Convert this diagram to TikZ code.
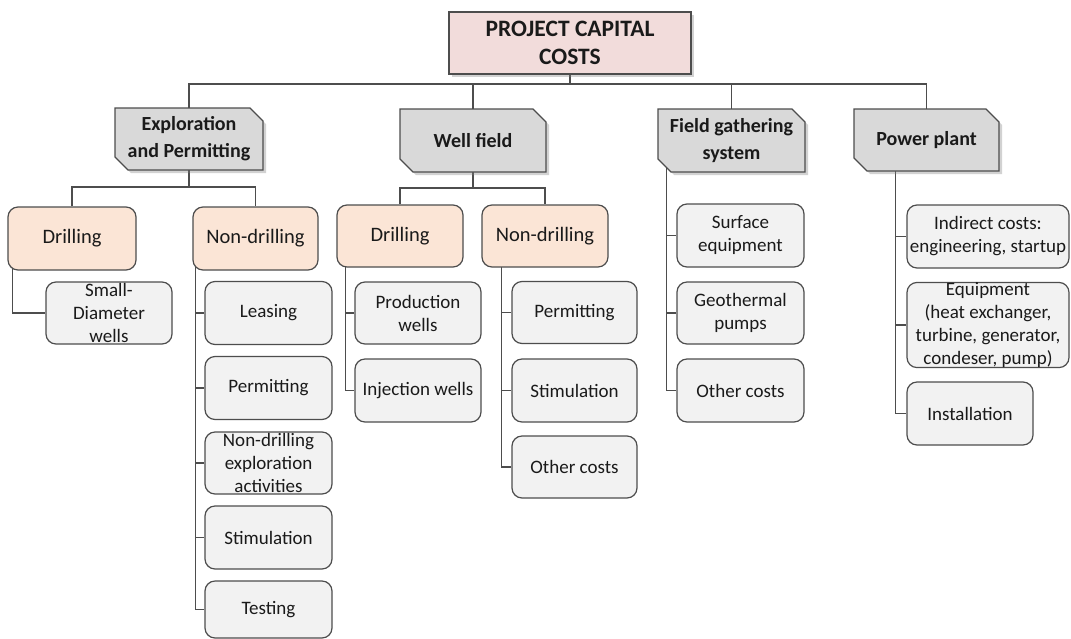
\documentclass[tikz,border=0pt]{standalone}
\usepackage{fontspec}
\setmainfont{Carlito}
\usetikzlibrary{shadows,backgrounds,calc}
\definecolor{topfill}{HTML}{F2DCDB}
\definecolor{lvtwofill}{HTML}{D9D9D9}
\definecolor{peachfill}{HTML}{FBE5D6}
\definecolor{leaffill}{HTML}{F2F2F2}
\definecolor{edgegray}{HTML}{4D4D4D}
\definecolor{ink}{HTML}{1A1A1A}
% name, cx, cy, w, h, text
\newcommand\chamf[6]{%
  \path[lvtwoshape] ({#2-#4/2},{#3-#5/2}) -- ({#2+#4/2-13},{#3-#5/2}) -- ({#2+#4/2},{#3-#5/2+13})
     -- ({#2+#4/2},{#3+#5/2}) -- ({#2-#4/2+13},{#3+#5/2}) -- ({#2-#4/2},{#3+#5/2-13}) -- cycle;
  \node[lvtwotext, minimum width=#4pt, minimum height=#5pt] (#1) at (#2,#3) {#6};}
\begin{document}
\begin{tikzpicture}[x=1pt,y=-1pt,
  conn/.style={draw=edgegray, line width=1.3pt},
  box/.style={draw=edgegray, line width=1.2pt, text=ink, align=center, inner sep=0pt},
  topbox/.style={box, fill=topfill, font=\bfseries\fontsize{23.5}{28}\selectfont,
     drop shadow={shadow xshift=3pt, shadow yshift=-3pt, opacity=0.35}},
  lvtwoshape/.style={draw=edgegray, line width=1.2pt, fill=lvtwofill,
     drop shadow={shadow xshift=3pt, shadow yshift=-3pt, opacity=0.35}},
  lvtwotext/.style={text=ink, align=center, inner sep=0pt, font=\bfseries\fontsize{20}{27}\selectfont},
  midbox/.style={box, rounded corners=10pt, fill=peachfill, font=\fontsize{20.5}{24}\selectfont},
  leaf/.style={box, rounded corners=10pt, fill=leaffill, font=\fontsize{19}{23}\selectfont},
]
\useasboundingbox (0,0) rectangle (1071,638);

% top
\node[topbox, minimum width=242pt, minimum height=62pt] (top) at (570,43) {PROJECT CAPITAL\\COSTS};

% level 2
\chamf{expl}{189}{139}{148}{62}{Exploration\\and Permitting}
\chamf{well}{473}{140.5}{146}{63}{Well field}
\chamf{field}{731.5}{140.5}{147}{63}{Field gathering\\system}
\chamf{power}{926.5}{140}{145}{62}{Power plant}

% exploration subtree
\node[midbox, minimum width=128pt, minimum height=63pt] (ed) at (72,238.5) {Drilling};
\node[midbox, minimum width=125pt, minimum height=63pt] (en) at (255.5,238.5) {Non-drilling};
\node[leaf, minimum width=126pt, minimum height=62pt] (sdw) at (109,313) {Small-\\Diameter\\wells};
\node[leaf, minimum width=127pt, minimum height=63pt] (le) at (268.5,313) {Leasing};
\node[leaf, minimum width=127pt, minimum height=63pt] (pe) at (268.5,388) {Permitting};
\node[leaf, minimum width=127pt, minimum height=62pt] (nd) at (268.5,463) {Non-drilling\\exploration\\activities};
\node[leaf, minimum width=127pt, minimum height=63pt] (st) at (268.5,537.5) {Stimulation};
\node[leaf, minimum width=127pt, minimum height=57pt] (te) at (268.5,609.5) {Testing};

% well field subtree
\node[midbox, minimum width=126pt, minimum height=62pt] (wd) at (400,236) {Drilling};
\node[midbox, minimum width=126pt, minimum height=62pt] (wn) at (545,236) {Non-drilling};
\node[leaf, minimum width=126pt, minimum height=62pt] (pw) at (418,313) {Production\\wells};
\node[leaf, minimum width=126pt, minimum height=63pt] (iw) at (418,390.5) {Injection wells};
\node[leaf, minimum width=125pt, minimum height=62pt] (wpe) at (574.5,312.5) {Permitting};
\node[leaf, minimum width=125pt, minimum height=63pt] (wst) at (574.5,390.5) {Stimulation};
\node[leaf, minimum width=125pt, minimum height=62pt] (woc) at (574.5,467) {Other costs};

% field gathering subtree
\node[leaf, minimum width=127pt, minimum height=63pt] (se) at (740.5,235.5) {Surface\\equipment};
\node[leaf, minimum width=127pt, minimum height=62pt] (gp) at (740.5,313) {Geothermal\\pumps};
\node[leaf, minimum width=127pt, minimum height=63pt] (foc) at (740.5,390.5) {Other costs};

% power plant subtree
\node[leaf, minimum width=162pt, minimum height=63pt] (ind) at (988,236.5) {Indirect costs:\\engineering, startup};
\node[leaf, minimum width=162pt, minimum height=84pt] (eq) at (988,325) {Equipment\\(heat exchanger,\\turbine, generator,\\condeser, pump)};
\node[leaf, minimum width=126pt, minimum height=63pt] (ins) at (970,413.5) {Installation};

\begin{pgfonlayer}{background}
\fill[white] (0,0) rectangle (1071,638);
\coordinate (busy) at (0,84);
\coordinate (busa) at (0,187);
\coordinate (busb) at (0,188);
\draw[conn] (top.south) -- (top.south |- busy);
\draw[conn] (expl.north) -- (expl.north |- busy) -- (power.north |- busy) -- (power.north);
\draw[conn] (well.north) -- (well.north |- busy);
\draw[conn] (field.north) -- (field.north |- busy);
% exploration
\draw[conn] (expl.south) -- (expl.south |- busa);
\draw[conn] (ed.north) -- (ed.north |- busa) -- (en.north |- busa) -- (en.north);
\draw[conn] ([xshift=5pt]ed.west) |- (sdw.west);
\foreach \c in {le,pe,nd,st,te} \draw[conn] ([xshift=3pt]en.west) |- (\c.west);
% well field
\draw[conn] (well.south) -- (well.south |- busb);
\draw[conn] (wd.north) -- (wd.north |- busb) -- (wn.north |- busb) -- (wn.north);
\foreach \c in {pw,iw} \draw[conn] ([xshift=9pt]wd.west) |- (\c.west);
\foreach \c in {wpe,wst,woc} \draw[conn] ([xshift=20pt]wn.west) |- (\c.west);
% field gathering
\foreach \c in {se,gp,foc} \draw[conn] ([xshift=9pt]field.west) |- (\c.west);
% power plant
\foreach \c in {ind,eq,ins} \draw[conn] ([xshift=42pt]power.west) |- (\c.west);
\end{pgfonlayer}
\end{tikzpicture}
\end{document}
